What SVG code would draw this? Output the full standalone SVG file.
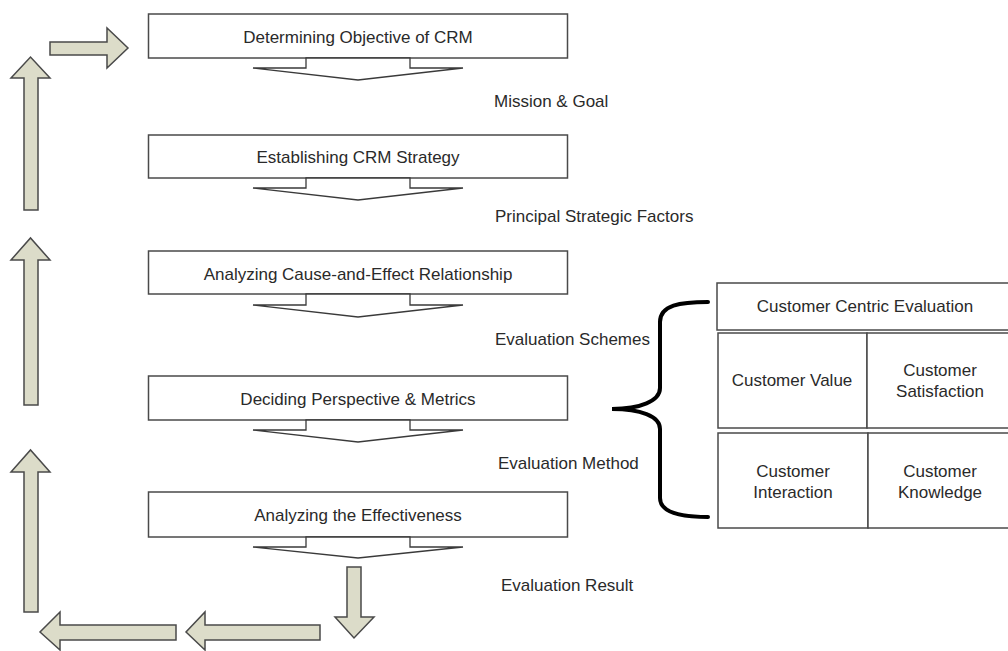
<svg xmlns="http://www.w3.org/2000/svg" width="1008" height="651" viewBox="0 0 1008 651">
<style>
.bg{fill:#ffffff}
.box{fill:#ffffff;stroke:#4a4a4a;stroke-width:1.5}
.chev{fill:#ffffff;stroke:#3a3a3a;stroke-width:1.3;stroke-linejoin:miter}
.arr{fill:#dcdcc9;stroke:#4a4a4a;stroke-width:1.5;stroke-linejoin:miter}
.t{font-family:"Liberation Sans",Arial,sans-serif;font-size:17px;fill:#2a2a2a;text-anchor:middle}
.lbl{font-family:"Liberation Sans",Arial,sans-serif;font-size:17px;fill:#2a2a2a}
.brace{fill:none;stroke:#000000;stroke-width:4;stroke-linecap:round}
</style>
<rect class="bg" x="0" y="0" width="1008" height="651"/>

<g id="step1">
<rect class="box" x="148.5" y="14" width="419" height="44"/>
<text class="t" x="358" y="42.5">Determining Objective of CRM</text>
</g>
<g id="step2">
<rect class="box" x="148.5" y="135" width="419" height="43"/>
<text class="t" x="358" y="163">Establishing CRM Strategy</text>
</g>
<g id="step3">
<rect class="box" x="148.5" y="251" width="419" height="43"/>
<text class="t" x="358" y="279.5">Analyzing Cause-and-Effect Relationship</text>
</g>
<g id="step4">
<rect class="box" x="148.5" y="376" width="419" height="44"/>
<text class="t" x="358" y="404.5">Deciding Perspective &amp; Metrics</text>
</g>
<g id="step5">
<rect class="box" x="148.5" y="492" width="419" height="45"/>
<text class="t" x="358" y="521">Analyzing the Effectiveness</text>
</g>

<g id="connectors">
<polygon class="chev" points="306,58 306,68 253,68 358,80 463,68 410,68 410,58"/>
<polygon class="chev" points="306,178 306,188 253,188 358,200 463,188 410,188 410,178"/>
<polygon class="chev" points="306,294 306,305 253,305 358,317 463,305 410,305 410,294"/>
<polygon class="chev" points="306,420 306,430 253,430 358,442 463,430 410,430 410,420"/>
<polygon class="chev" points="306,537 306,547 253,547 358,558 463,547 410,547 410,537"/>

<polygon class="arr" points="347,567 361,567 361,617 374,617 354,638 335,617 347,617"/>
<polygon class="arr" points="320,625 320,640 205,640 205,650 186,632 205,612 205,625"/>
<polygon class="arr" points="176,625 176,640 60,640 60,650 40,632 60,612 60,625"/>
<polygon class="arr" points="24,612 38,612 38,472 50,472 30.5,450 11,472 24,472"/>
<polygon class="arr" points="24,405 38,405 38,260 50,260 30.5,238 11,260 24,260"/>
<polygon class="arr" points="24,210 38,210 38,78 50,78 30.5,57 11,78 24,78"/>
<polygon class="arr" points="50,42 107,42 107,28 128,48 107,68 107,55 50,55"/>

<path class="brace" d="M708,302 C680,302 660,305 660,322 L660,388 C660,401 640,409 612,409 C640,409 660,416 660,429 L660,498 C660,512 680,517 708,517"/>
</g>

<g id="labels">
<text class="lbl" x="494" y="107">Mission &amp; Goal</text>
<text class="lbl" x="495" y="222">Principal Strategic Factors</text>
<text class="lbl" x="495" y="345">Evaluation Schemes</text>
<text class="lbl" x="498" y="469">Evaluation Method</text>
<text class="lbl" x="501" y="591">Evaluation Result</text>
</g>

<g id="cce">
<rect class="box" x="717" y="283" width="300" height="47"/>
<text class="t" x="865" y="312">Customer Centric Evaluation</text>
</g>
<g id="value">
<rect class="box" x="718" y="333" width="149" height="95"/>
<text class="t" x="792" y="386">Customer Value</text>
</g>
<g id="satisfaction">
<rect class="box" x="867" y="333" width="150" height="95"/>
<text class="t" x="940" y="376">Customer</text>
<text class="t" x="940" y="397">Satisfaction</text>
</g>
<g id="interaction">
<rect class="box" x="718" y="433" width="150" height="95"/>
<text class="t" x="793" y="477">Customer</text>
<text class="t" x="793" y="498">Interaction</text>
</g>
<g id="knowledge">
<rect class="box" x="868" y="433" width="149" height="95"/>
<text class="t" x="940" y="477">Customer</text>
<text class="t" x="940" y="498">Knowledge</text>
</g>
</svg>
